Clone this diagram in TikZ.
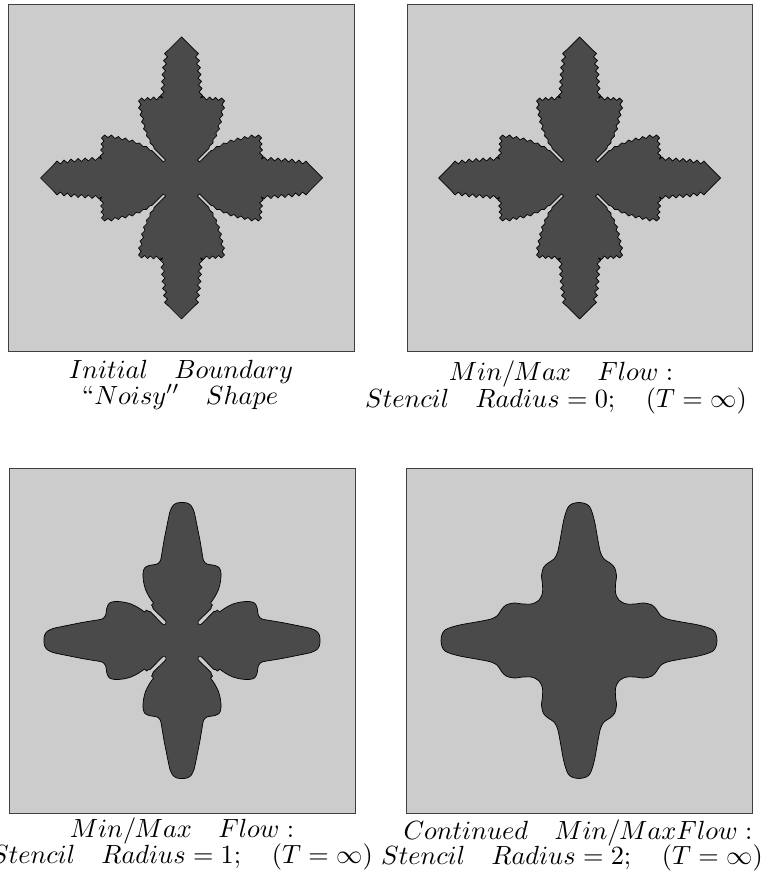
\documentclass[tikz,border=0pt]{standalone}
\definecolor{boxgray}{gray}{0.8}
\definecolor{shapegray}{gray}{0.29}
\definecolor{boxedge}{gray}{0.25}
% octant point lists (local px, y up): right half of the top arm, tip -> diagonal
\def\octN{0/141,13/128,17/124.5,14/121,18/117.5,15/114,19/110.5,16/107,19.5/103.5,16.5/100,20/96.5,17/93,20.5/89.5,17.5/86,21/82.5,19/80,22/81.5,25/78,28/81,31/78,34/80.5,37/77.5,40/80,43/77,40.5/73.5,43/70,39.5/66.5,41.5/63,38/59.5,40/56,36.5/52.5,38/49,34.5/45.5,35/42,31.5/38.5,31.5/35,28/32,27.4/29.6,15.9/18.1}
\def\revN{15.9/18.1,27.4/29.6,28/32,31.5/35,31.5/38.5,35/42,34.5/45.5,38/49,36.5/52.5,40/56,38/59.5,41.5/63,39.5/66.5,43/70,40.5/73.5,43/77,40/80,37/77.5,34/80.5,31/78,28/81,25/78,22/81.5,19/80,21/82.5,17.5/86,20.5/89.5,17/93,20/96.5,16.5/100,19.5/103.5,16/107,19/110.5,15/114,18/117.5,14/121,17/124.5,13/128}
\def\octS{0/138,5/137.5,9/135,12/129,14/120,16/110,18/100,20/88,21.5/80,25/76.5,33/75,37.5/72.5,39/67,38.5/59,36.5/51,33/44,30/39.5,28.5/37.5,30.5/35.5,29/33.5,28.6/31.4,16.1/18.9}
\def\revS{16.1/18.9,28.6/31.4,29/33.5,30.5/35.5,28.5/37.5,30/39.5,33/44,36.5/51,38.5/59,39/67,37.5/72.5,33/75,25/76.5,21.5/80,20/88,18/100,16/110,14/120,12/129,9/135,5/137.5}
\def\octC{0/138,6/137,10.5/134,13.5/127,16/117,19/100,21.5/88,25/81.5,31/77.5,35.5/73,37.5/65,36.5/56,36.5/48,38/43.5,40.2/40.2}
\def\revC{38/43.5,36.5/48,36.5/56,37.5/65,35.5/73,31/77.5,25/81.5,21.5/88,19/100,16/117,13.5/127,10.5/134,6/137}
\newcommand\mkpts[2]{%
  \gdef\allpts{}%
  \foreach \q in {0,90,180,270}{%
    \foreach \x/\y in #1{%
      \pgfmathsetmacro\xx{\x*cos(\q)+\y*sin(\q)}%
      \pgfmathsetmacro\yy{-\x*sin(\q)+\y*cos(\q)}%
      \xdef\allpts{\allpts(\xx,\yy)}}%
    \foreach \x/\y in #2{%
      \pgfmathsetmacro\xx{\y*cos(\q)+\x*sin(\q)}%
      \pgfmathsetmacro\yy{-\y*sin(\q)+\x*cos(\q)}%
      \xdef\allpts{\allpts(\xx,\yy)}}}}
\begin{document}
\begin{tikzpicture}[x=1pt,y=-1pt,
  panel/.style={fill=boxgray, draw=boxedge, line width=1pt},
  blob/.style={fill=shapegray, draw=black, line width=0.7pt, line join=round},
  lbl/.style={anchor=base, inner sep=0pt, scale=2.63}]
\useasboundingbox (0,0) rectangle (761,882);
\fill[white] (0,0) rectangle (761,882);
% panels
\path[panel] (8,5) rectangle (354,351);
\path[panel] (407,5) rectangle (752,351);
\path[panel] (9,468) rectangle (355,813);
\path[panel] (406,468) rectangle (752,813);
% shapes
\mkpts{\octN}{\revN}
\begin{scope}[shift={(181.5,178)},yscale=-1]
\edef\tmp{\noexpand\path[blob] plot[sharp cycle] coordinates {\allpts};}\tmp
\end{scope}
\begin{scope}[shift={(579.5,178)},yscale=-1]
\edef\tmp{\noexpand\path[blob] plot[sharp cycle] coordinates {\allpts};}\tmp
\end{scope}
\mkpts{\octS}{\revS}
\begin{scope}[shift={(182,640.5)},yscale=-1]
\edef\tmp{\noexpand\path[blob] plot[smooth cycle, tension=0.5] coordinates {\allpts};}\tmp
\end{scope}
\mkpts{\octC}{\revC}
\begin{scope}[shift={(579,640.5)},yscale=-1]
\edef\tmp{\noexpand\path[blob] plot[smooth cycle, tension=0.5] coordinates {\allpts};}\tmp
\end{scope}
% labels
\node[lbl] (t1a) at (181,378) {$Initial\quad Boundary$};
\node[lbl] (t1b) at (180,404) {$\mbox{``}Noisy''\quad Shape$};
\node[lbl] (t2a) at (561,380) {$Min/Max\quad Flow:$};
\node[lbl] (t2b) at (556,407) {$Stencil\quad Radius=0;\quad(T=\infty)$};
\node[lbl] (t3a) at (182,837) {$Min/Max\quad Flow:$};
\node[lbl] (t3b) at (182,863) {$Stencil\quad Radius=1;\quad(T=\infty)$};
\node[lbl] (t4a) at (578,839) {$Continued\quad Min/MaxFlow:$};
\node[lbl] (t4b) at (572,864) {$Stencil\quad Radius=2;\quad(T=\infty)$};
\end{tikzpicture}
\end{document}
